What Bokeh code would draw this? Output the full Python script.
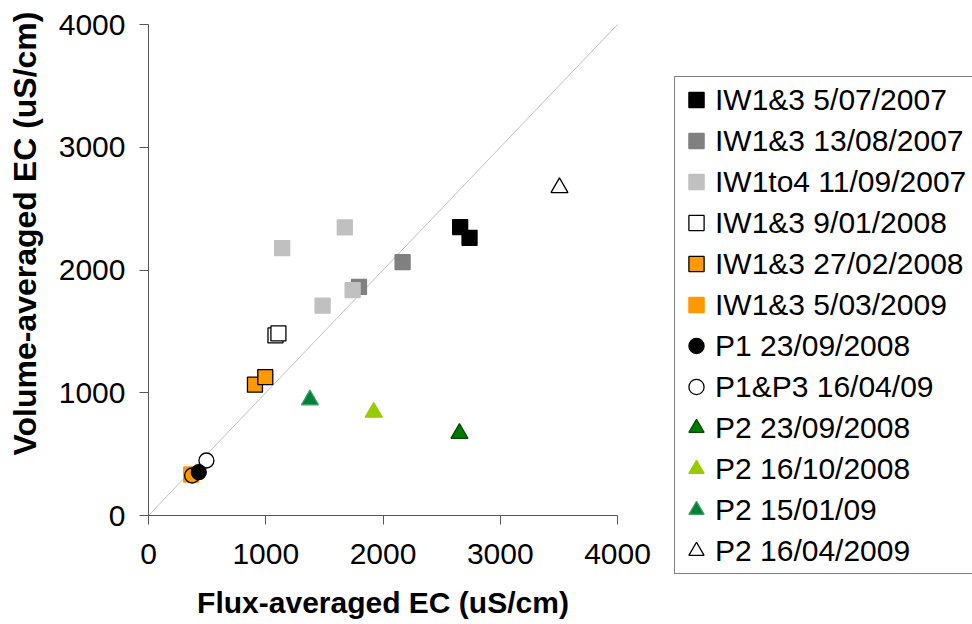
from math import pi
from bokeh.plotting import figure
from bokeh.models import Range1d, FixedTicker, Legend, LegendItem, Label
from bokeh.embed import file_html
from bokeh.resources import INLINE

FONT = "Liberation Sans"

# Flux-averaged EC (x) vs volume-averaged EC (y), uS/cm, per sampling campaign
iw13_20070705_x = [2658, 2738]
iw13_20070705_y = [2350, 2262]
iw13_20070813_x = [1795, 2167]
iw13_20070813_y = [1862, 2064]
iw1to4_20070911_x = [1674, 1140, 1485, 1741]
iw1to4_20070911_y = [2347, 2179, 1709, 1836]
iw13_20080109_x = [1083, 1108]
iw13_20080109_y = [1467, 1483]
iw13_20080227_x = [908, 996]
iw13_20080227_y = [1066, 1127]
iw13_20090305_x = [364]
iw13_20090305_y = [334]
p1_extra_x = [372]
p1_extra_y = [326]
p1p3_20090416_x = [494]
p1p3_20090416_y = [448]
p1_20080923_x = [429]
p1_20080923_y = [353]
p2_20080923_x = [2652]
p2_20080923_y = [668]
p2_20081016_x = [1921]
p2_20081016_y = [841]
p2_20090115_x = [1377]
p2_20090115_y = [942]
p2_20090416_x = [3505]
p2_20090416_y = [2670]

axis_ticks = [0, 1000, 2000, 3000, 4000]
one_to_one = [0, 4000]

# (legend label, x, y, marker, fill, outline) in drawing order
series = [
    ("IW1&3 5/07/2007", iw13_20070705_x, iw13_20070705_y, "square", "black", "black"),
    ("IW1&3 13/08/2007", iw13_20070813_x, iw13_20070813_y, "square", "#808080", "#808080"),
    ("IW1to4 11/09/2007", iw1to4_20070911_x, iw1to4_20070911_y, "square", "#c0c0c0", "#c0c0c0"),
    ("IW1&3 9/01/2008", iw13_20080109_x, iw13_20080109_y, "square", "white", "black"),
    ("IW1&3 27/02/2008", iw13_20080227_x, iw13_20080227_y, "square", "#ff9900", "black"),
    ("IW1&3 5/03/2009", iw13_20090305_x, iw13_20090305_y, "square", "#ff9900", "#ff9900"),
    (None, p1_extra_x, p1_extra_y, "circle", "#ff9900", "black"),
    ("P1&P3 16/04/09", p1p3_20090416_x, p1p3_20090416_y, "circle", "white", "black"),
    ("P1 23/09/2008", p1_20080923_x, p1_20080923_y, "circle", "black", "black"),
    ("P2 23/09/2008", p2_20080923_x, p2_20080923_y, "triangle", "#007a00", "#004a00"),
    ("P2 16/10/2008", p2_20081016_x, p2_20081016_y, "triangle", "#99cc00", "#99cc00"),
    ("P2 15/01/09", p2_20090115_x, p2_20090115_y, "triangle", "#008038", "#3aa066"),
    ("P2 16/04/2009", p2_20090416_x, p2_20090416_y, "triangle", "white", "black"),
]
legend_order = ["IW1&3 5/07/2007", "IW1&3 13/08/2007", "IW1to4 11/09/2007",
                "IW1&3 9/01/2008", "IW1&3 27/02/2008", "IW1&3 5/03/2009",
                "P1 23/09/2008", "P1&P3 16/04/09", "P2 23/09/2008",
                "P2 16/10/2008", "P2 15/01/09", "P2 16/04/2009"]
SIZES = {"square": 15, "circle": 15, "triangle": 17}

# Canvas geometry: the data area (0..4000 on both axes) sits inside a
# frame that covers the whole canvas; axes are pinned at the origin.
W, H = 972, 624
AX_LEFT, AX_RIGHT, AX_TOP, AX_BOTTOM = 148, 617, 24, 515
lo, hi = axis_ticks[0], axis_ticks[-1]
ux = (hi - lo) / (AX_RIGHT - AX_LEFT)
uy = (hi - lo) / (AX_BOTTOM - AX_TOP)
x_range = Range1d(lo - AX_LEFT * ux, hi + (W - AX_RIGHT) * ux)
y_range = Range1d(lo - (H - AX_BOTTOM) * uy, hi + AX_TOP * uy)

p = figure(width=W, height=H, output_backend="svg", toolbar_location=None,
           x_range=x_range, y_range=y_range, min_border=0)
p.outline_line_color = None
p.xgrid.visible = False
p.ygrid.visible = False
p.background_fill_color = "white"
p.border_fill_color = "white"

for ax in (p.xaxis[0], p.yaxis[0]):
    ax.fixed_location = 0
    ax.bounds = (lo, hi)
    ax.ticker = FixedTicker(ticks=axis_ticks)
    ax.axis_line_color = "#555555"
    ax.major_tick_line_color = "#555555"
    ax.major_tick_out = 9
    ax.major_tick_in = 0
    ax.minor_tick_line_color = None
    ax.major_label_text_font = FONT
    ax.major_label_text_font_size = "30px"
    ax.major_label_text_color = "black"

p.yaxis.major_label_standoff = 14
p.xaxis.major_label_standoff = 19
p.xaxis.axis_label = "Flux-averaged EC (uS/cm)"
p.xaxis.axis_label_text_font = FONT
p.xaxis.axis_label_text_font_size = "30px"
p.xaxis.axis_label_text_font_style = "bold"
p.xaxis.axis_label_text_color = "black"
p.xaxis.axis_label_standoff = 19

# y-axis title
p.add_layout(Label(x=24, y=H - 233, x_units="screen", y_units="screen",
                   text="Volume-averaged EC (uS/cm)", angle=pi / 2,
                   text_align="center", text_baseline="alphabetic",
                   text_font=FONT, text_font_size="32px", text_font_style="bold",
                   text_color="black"))

# 1:1 line
p.line(x=one_to_one, y=one_to_one, line_color="#c0c0c0", line_width=1)

renderers = {}
for label, xs, ys, marker, fill, line in series:
    r = p.scatter(x=xs, y=ys, marker=marker, size=SIZES[marker], fill_color=fill,
                  line_color=line, line_width=1.3)
    if label is not None:
        renderers[label] = r

items = [LegendItem(label=name, renderers=[renderers[name]]) for name in legend_order]
legend = Legend(items=items, location=(674, 50), orientation="vertical",
                label_text_font=FONT, label_text_font_size="30px",
                label_text_color="black", glyph_width=38, glyph_height=41,
                label_height=41, label_width=272, spacing=0, padding=2, margin=0,
                label_standoff=-5, border_line_color="black", border_line_width=1,
                background_fill_color="white", background_fill_alpha=1,
                click_policy="none")
p.add_layout(legend)

open("out.html", "w").write(file_html(p, INLINE))
